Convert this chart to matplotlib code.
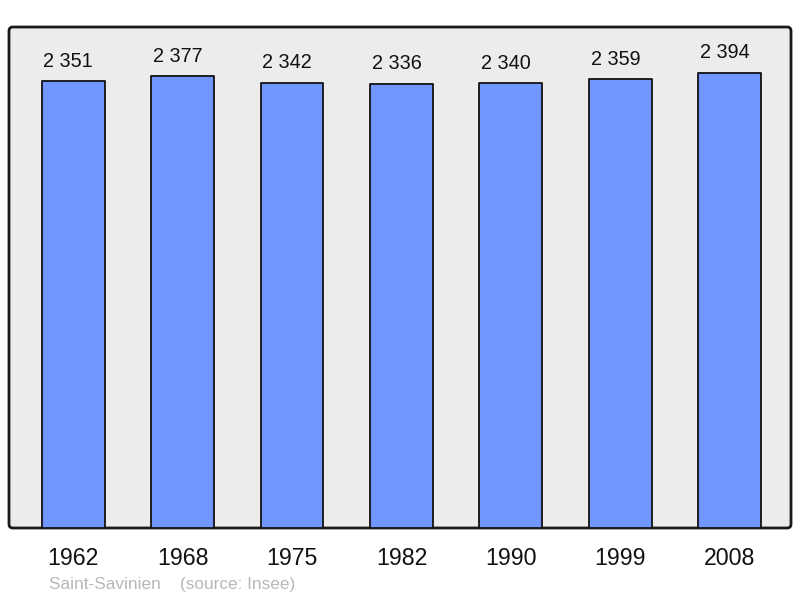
import matplotlib
matplotlib.use("Agg")
import matplotlib.pyplot as plt
from matplotlib.patches import FancyBboxPatch

years = ["1962", "1968", "1975", "1982", "1990", "1999", "2008"]
population = [2351, 2377, 2342, 2336, 2340, 2359, 2394]
value_labels = ["2 351", "2 377", "2 342", "2 336", "2 340", "2 359", "2 394"]
source_text = "Saint-Savinien    (source: Insee)"

plt.rcParams['font.family'] = ['Liberation Sans', 'DejaVu Sans']

fig = plt.figure(figsize=(8.0, 5.98), dpi=100)
fig.patch.set_facecolor('white')
ax = fig.add_axes([9/800, 1-528/598, 782/800, 501/598])
ax.set_facecolor('none')
for s in ax.spines.values():
    s.set_visible(False)

bg = FancyBboxPatch((0, 0), 1, 1, boxstyle="round,pad=0,rounding_size=0.005",
                    mutation_aspect=782/501, transform=ax.transAxes,
                    facecolor='#ececec', edgecolor='#1a1a1a', linewidth=2.0,
                    zorder=0, clip_on=False)
ax.add_patch(bg)

x = list(range(len(years)))
bars = ax.bar(x, population, width=0.575, color='#7097ff', edgecolor='#111111',
              linewidth=1.3, zorder=2)
for b in bars:
    b.set_joinstyle('round')

for xi, v, lab in zip(x, population, value_labels):
    ax.annotate(lab, (xi, v), xytext=(-3.5, 7.5), textcoords='offset points',
                ha='center', va='bottom', fontsize=14.3, color='#111111')

ax.set_xlim(-0.585, 6.558)
ax.set_ylim(0, 2635)
ax.set_yticks([])
ax.set_xticks(x)
ax.set_xticklabels(years, fontsize=16.7, color='#111111')
ax.tick_params(axis='x', length=0, pad=13.5)

fig.text(49/800, 1-584/598, source_text, fontsize=12.4, color='#b8b8b8',
         ha='left', va='center')

fig.savefig('out.png', dpi=100)
